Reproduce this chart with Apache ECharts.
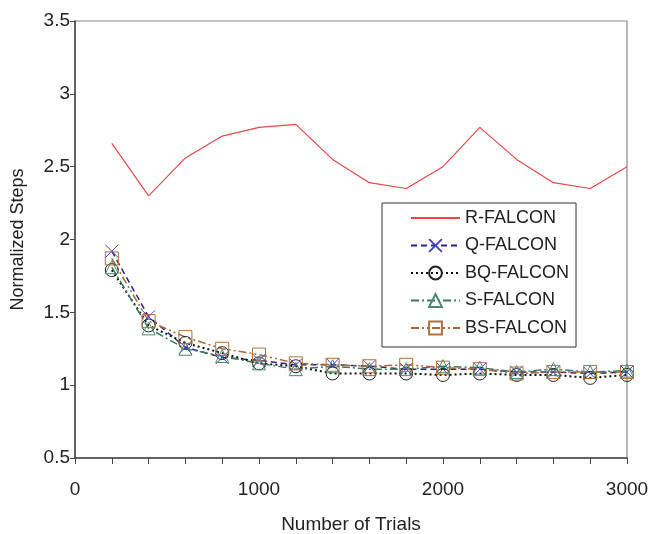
<!DOCTYPE html>
<html>
<head>
<meta charset="utf-8">
<script src="https://cdn.jsdelivr.net/npm/echarts@6/dist/echarts.min.js"></script>
<style>
  html, body { margin: 0; padding: 0; background: #fff; }
  #chart { width: 662px; height: 534px; }
</style>
</head>
<body>
<div id="chart"></div>
<script>
// Number of trials on the x axis
const trials = [200, 400, 600, 800, 1000, 1200, 1400, 1600, 1800, 2000, 2200, 2400, 2600, 2800, 3000];

// Normalized steps per method
const rFalcon  = [2.66, 2.30, 2.56, 2.71, 2.77, 2.79, 2.55, 2.39, 2.35, 2.50, 2.77, 2.55, 2.39, 2.35, 2.50];
const qFalcon  = [1.92, 1.47, 1.26, 1.19, 1.17, 1.14, 1.14, 1.13, 1.11, 1.11, 1.11, 1.09, 1.09, 1.08, 1.09];
const bqFalcon = [1.79, 1.41, 1.29, 1.22, 1.15, 1.13, 1.08, 1.08, 1.08, 1.07, 1.08, 1.07, 1.07, 1.05, 1.07];
const sFalcon  = [1.81, 1.39, 1.25, 1.20, 1.15, 1.11, 1.13, 1.11, 1.11, 1.13, 1.12, 1.09, 1.11, 1.09, 1.10];
const bsFalcon = [1.87, 1.44, 1.33, 1.25, 1.21, 1.15, 1.14, 1.13, 1.14, 1.12, 1.11, 1.08, 1.09, 1.09, 1.09];

const FONT = '"Liberation Sans", Arial, sans-serif';

function pairs(values) {
  return trials.map((t, i) => [t, values[i]]);
}

const crossPath = 'path://M0,0L10,10M10,0L0,10';

const chart = echarts.init(document.getElementById('chart'), null, { renderer: 'canvas' });

chart.setOption({
  backgroundColor: '#ffffff',
  animation: false,
  textStyle: { fontFamily: FONT },
  grid: {
    left: 75, right: 35, top: 21, bottom: 76,
    outerBoundsMode: 'none',
    containLabel: false,
    show: true, borderColor: '#888888', borderWidth: 1.2, backgroundColor: 'transparent'
  },
  legend: {
    data: [
      { name: 'R-FALCON', itemStyle: { opacity: 0 } },
      'Q-FALCON', 'BQ-FALCON', 'S-FALCON', 'BS-FALCON'
    ],
    orient: 'vertical',
    left: 382,
    top: 203,
    backgroundColor: '#ffffff',
    borderColor: '#333333',
    borderWidth: 1,
    borderRadius: 0,
    padding: [6, 7, 10, 28],
    itemWidth: 49,
    itemHeight: 16,
    itemGap: 9.5,
    textStyle: { fontFamily: FONT, fontSize: 18, color: '#222222' }
  },
  xAxis: {
    type: 'value',
    min: 0, max: 3000, interval: 1000,
    name: 'Number of Trials',
    nameLocation: 'middle',
    nameGap: 57,
    nameTextStyle: { fontFamily: FONT, fontSize: 19, color: '#222222' },
    axisLine: { show: true, onZero: false, lineStyle: { color: '#444444', width: 1.5 } },
    axisTick: { show: true, inside: false, length: 6, lineStyle: { color: '#444444', width: 1 } },
    minorTick: { show: true, splitNumber: 5, length: 6, lineStyle: { color: '#444444', width: 1 } },
    splitLine: { show: false },
    axisLabel: {
      fontFamily: FONT, fontSize: 19, color: '#222222', margin: 22,
      formatter: v => String(v)
    }
  },
  yAxis: {
    type: 'value',
    min: 0.5, max: 3.5, interval: 0.5,
    name: 'Normalized Steps',
    nameLocation: 'middle',
    nameGap: 48,
    nameTextStyle: { fontFamily: FONT, fontSize: 18, color: '#222222' },
    axisLine: { show: true, lineStyle: { color: '#444444', width: 1.5 } },
    axisTick: { show: true, inside: false, length: 5, lineStyle: { color: '#444444', width: 1 } },
    splitLine: { show: false },
    axisLabel: { fontFamily: FONT, fontSize: 19, color: '#222222', margin: 5 }
  },
  series: [
    {
      name: 'R-FALCON', type: 'line', data: pairs(rFalcon),
      symbol: 'none', showSymbol: false,
      lineStyle: { color: '#e8464b', width: 1.2, type: 'solid' },
      itemStyle: { color: '#e8464b' }
    },
    {
      name: 'Q-FALCON', type: 'line', data: pairs(qFalcon),
      symbol: crossPath, symbolSize: 13,
      lineStyle: { color: '#262688', width: 1.5, type: [6, 4] },
      itemStyle: { color: 'transparent', borderColor: '#4545c0', borderWidth: 1 }
    },
    {
      name: 'BQ-FALCON', type: 'line', data: pairs(bqFalcon),
      symbol: 'circle', symbolSize: 13,
      lineStyle: { color: '#111111', width: 2, type: [2, 3] },
      itemStyle: { color: 'transparent', borderColor: '#222222', borderWidth: 1 }
    },
    {
      name: 'S-FALCON', type: 'line', data: pairs(sFalcon),
      symbol: 'triangle', symbolSize: 13,
      lineStyle: { color: '#3b7a5a', width: 1.5, type: [8, 3, 2, 3] },
      itemStyle: { color: 'transparent', borderColor: '#4a8a6a', borderWidth: 1 }
    },
    {
      name: 'BS-FALCON', type: 'line', data: pairs(bsFalcon),
      symbol: 'rect', symbolSize: 13,
      lineStyle: { color: '#a8683a', width: 1.5, type: [8, 3, 2, 3, 2, 3] },
      itemStyle: { color: 'transparent', borderColor: '#b07040', borderWidth: 1 }
    }
  ]
});
</script>
</body>
</html>
